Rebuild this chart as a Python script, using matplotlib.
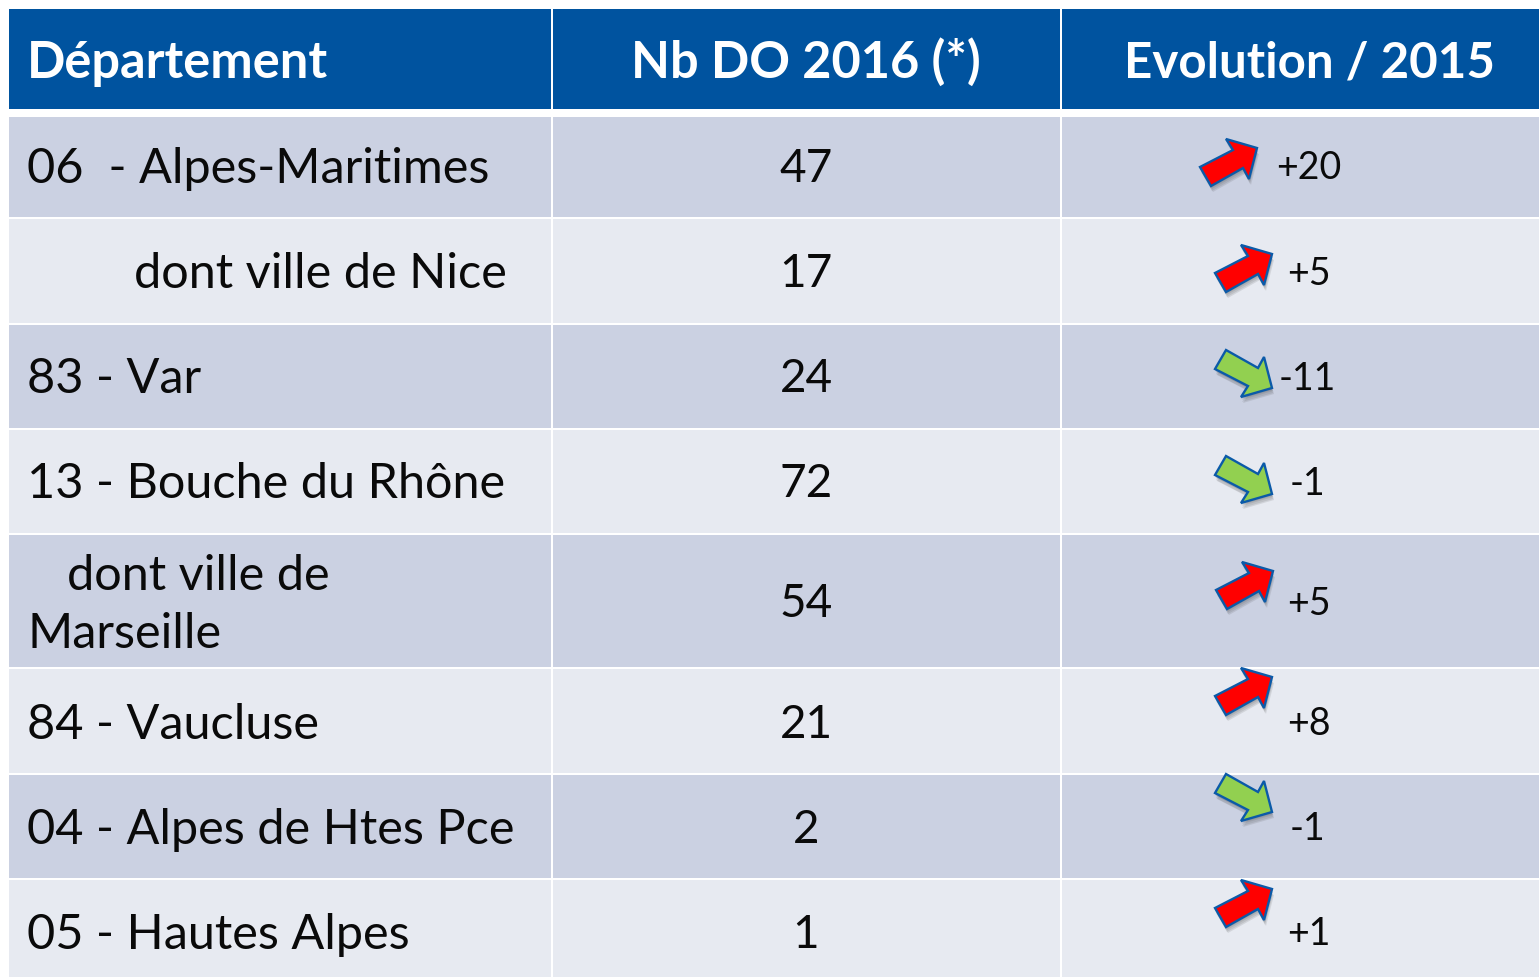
import matplotlib
matplotlib.use("Agg")
import matplotlib.pyplot as plt
from matplotlib.patches import Polygon, Rectangle

W, H = 1539, 977

headers = ["Département", "Nb DO 2016 (*)", "Evolution / 2015"]
departments = [
    "06  - Alpes-Maritimes",
    "dont ville de Nice",
    "83 - Var",
    "13 - Bouche du Rhône",
    "dont ville de\nMarseille",
    "84 - Vaucluse",
    "04 - Alpes de Htes Pce",
    "05 - Hautes Alpes",
]
counts = [47, 17, 24, 72, 54, 21, 2, 1]
changes = ["+20", "+5", "-11", "-1", "+5", "+8", "-1", "+1"]

plt.rcParams["font.family"] = ["Lato", "DejaVu Sans"]

BLUE = "#00539f"
DARK = "#cbd1e2"
LIGHT = "#e7eaf1"
UP = "#ff0000"
DOWN = "#92d050"
EDGE = "#0b5aa8"
INK = "#0a0a0a"

col_x = [9, 553, 1062, 1541]
row_y = [117, 219, 325, 430, 535, 669, 775, 880, 979]
name_x = [27, 134, 27, 27, 27, 27, 27, 27]
base_y = [183, 288, 393, 498, 618, 739, 844, 949]
arrow_x = [1229, 1244, 1244, 1244, 1245, 1244, 1244, 1244]
arrow_y = [163, 269, 373, 479, 586, 692, 797, 904]
change_x = [1309, 1309, 1307, 1307, 1309, 1309, 1307, 1309]
change_base = [179, 285, 390, 495, 615, 735, 840, 945]

fig = plt.figure(figsize=(W / 100, H / 100), dpi=100)
ax = fig.add_axes([0, 0, 1, 1])
ax.set_xlim(0, W)
ax.set_ylim(H, 0)
ax.axis("off")


def arrow(cx, cy, up):
    # block arrow, outline
    shape = [(-29, 4), (-18, 23), (14, 5), (20, 16), (28, -15), (-3, -24), (4, -13)]
    sign = 1 if up else -1
    pts = [(cx + x, cy + sign * y) for x, y in shape]
    # soft drop shadow from a few stacked offsets
    for dx, dy in [(0, 2), (1, 3), (1, 5), (2, 6)]:
        shadow = [(x + dx, y + dy) for x, y in pts]
        ax.add_patch(Polygon(shadow, closed=True, fc="#444444", ec="none", alpha=0.13, zorder=3))
    ax.add_patch(Polygon(pts, closed=True, fc=UP if up else DOWN, ec=EDGE, lw=1.7, zorder=4))


for c in range(3):
    ax.add_patch(Rectangle((col_x[c], 9), col_x[c + 1] - col_x[c] - 2, 100, fc=BLUE, ec="none"))
ax.text(27, 78, headers[0], color="white", fontsize=36.4, fontweight="bold", va="baseline", ha="left")
ax.text(806, 78, headers[1], color="white", fontsize=36.4, fontweight="bold", va="baseline", ha="center")
ax.text(1309, 78, headers[2], color="white", fontsize=35.5, fontweight="bold", va="baseline", ha="center")

for i in range(len(departments)):
    top, bottom = row_y[i], row_y[i + 1]
    for c in range(3):
        ax.add_patch(Rectangle((col_x[c], top), col_x[c + 1] - col_x[c] - 2, bottom - top - 2,
                               fc=DARK if i % 2 == 0 else LIGHT, ec="none"))
    if "\n" in departments[i]:
        first, second = departments[i].split("\n")
        ax.text(67, 590, first, fontsize=35, color=INK, va="baseline", ha="left")
        ax.text(27, 648, second, fontsize=35, color=INK, va="baseline", ha="left")
    else:
        ax.text(name_x[i], base_y[i], departments[i], fontsize=35, color=INK, va="baseline", ha="left")
    ax.text(806, base_y[i] - 1, str(counts[i]), fontsize=33, color=INK, va="baseline", ha="center")
    arrow(arrow_x[i], arrow_y[i], changes[i].startswith("+"))
    ax.text(change_x[i], change_base[i], changes[i], fontsize=27, color=INK, va="baseline", ha="center")

fig.savefig("out.png", dpi=100, facecolor="white")
